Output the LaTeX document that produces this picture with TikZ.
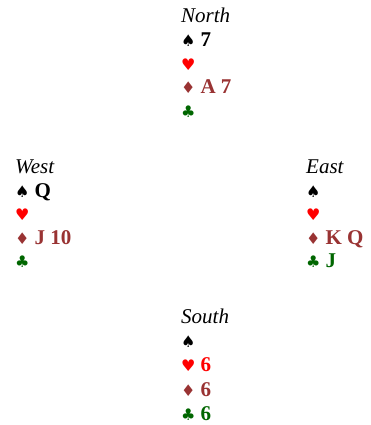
\documentclass[tikz,border=0pt]{standalone}
\usepackage{fontspec}
\setmainfont{Liberation Serif}
\newfontfamily\symfont{DejaVu Sans}
\definecolor{hrtred}{HTML}{FF0000}
\definecolor{dmdbrown}{HTML}{993333}
\definecolor{clbgreen}{HTML}{006600}
\newcommand{\SpdS}{{\symfont\fontsize{16}{16}\selectfont\color{black}♠}}
\newcommand{\HrtS}{{\symfont\fontsize{16}{16}\selectfont\color{hrtred}♥}}
\newcommand{\DmdS}{{\symfont\fontsize{16}{16}\selectfont\color{dmdbrown}♦}}
\newcommand{\ClbS}{{\symfont\fontsize{16}{16}\selectfont\color{clbgreen}♣}}
\tikzset{
  handline/.style={anchor=base west, inner sep=0pt, font=\fontsize{21}{23}\selectfont\bfseries},
  player/.style={anchor=base west, inner sep=0pt, font=\fontsize{21}{23}\selectfont\itshape},
}
\begin{document}
\begin{tikzpicture}[x=1pt,y=-1pt]
\useasboundingbox (0,0) rectangle (370,425);
% North
\node[player] (nname) at (181,23) {North};
\node[handline] (ns) at (181,47) {\SpdS\hspace{5pt}7};
\node[handline] (nh) at (181,70.5) {\HrtS};
\node[handline] (nd) at (181,94) {\DmdS\hspace{5pt}\textcolor{dmdbrown}{A 7}};
\node[handline] (nc) at (181,117.5) {\ClbS};
% West
\node[player] (wname) at (15,173) {West};
\node[handline] (ws) at (15,197) {\SpdS\hspace{5pt}Q};
\node[handline] (wh) at (15,220.5) {\HrtS};
\node[handline] (wd) at (15,244) {\DmdS\hspace{5pt}\textcolor{dmdbrown}{J 10}};
\node[handline] (wc) at (15,267.5) {\ClbS};
% East
\node[player] (ename) at (306,173) {East};
\node[handline] (es) at (306,197) {\SpdS};
\node[handline] (eh) at (306,220.5) {\HrtS};
\node[handline] (ed) at (306,244) {\DmdS\hspace{5pt}\textcolor{dmdbrown}{K Q}};
\node[handline] (ec) at (306,267.5) {\ClbS\hspace{5pt}\textcolor{clbgreen}{J}};
% South
\node[player] (sname) at (181,323) {South};
\node[handline] (ss) at (181,347) {\SpdS};
\node[handline] (sh) at (181,371.5) {\HrtS\hspace{5pt}\textcolor{hrtred}{6}};
\node[handline] (sd) at (181,396) {\DmdS\hspace{5pt}\textcolor{dmdbrown}{6}};
\node[handline] (sc) at (181,420) {\ClbS\hspace{5pt}\textcolor{clbgreen}{6}};
\end{tikzpicture}
\end{document}
